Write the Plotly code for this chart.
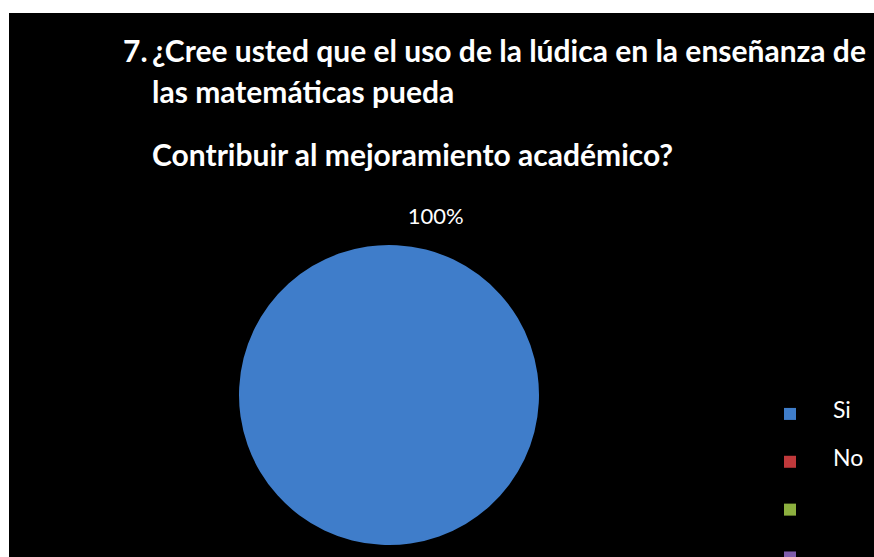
import plotly.graph_objects as go

# ---- data ----
categories = ["Si", "No", "", " "]
values = [100, 0, 0, 0]
slice_colors = ["#3f7dca", "#c0393b", "#8db03f", "#7e5cab"]
title_number = "7."
title_lines = [
    "¿Cree usted que el uso de la lúdica en la enseñanza de",
    "las matemáticas pueda",
    "Contribuir al mejoramiento académico?",
]

W, H = 874, 557

def px_x(x):
    return x / W

def px_y(y):
    return 1 - y / H

# legend display names (padded so entries are spaced like the original)
legend_names = [f"<br><span style='font-size:23px'>{c}</span><br>" for c in categories]
templates = ["<span style='font-size:22px'>%{percent:.0%}</span><br> " if v > 0 else "" for v in values]

fig = go.Figure()
fig.add_trace(go.Pie(
    labels=legend_names,
    values=values,
    sort=False,
    direction="clockwise",
    rotation=183,
    marker=dict(colors=slice_colors, line=dict(width=0)),
    texttemplate=templates,
    textposition="outside",
    textfont=dict(family="Lato", size=14, color="white"),
    hoverinfo="skip",
    domain=dict(x=[px_x(238), px_x(540)], y=[px_y(545), px_y(245)]),
    showlegend=True,
))

annotations = [
    dict(text=title_number, x=px_x(121), y=px_y(50), xanchor="left", yanchor="middle"),
    dict(text=title_lines[0], x=px_x(150), y=px_y(50), xanchor="left", yanchor="middle"),
    dict(text=title_lines[1], x=px_x(150), y=px_y(91), xanchor="left", yanchor="middle"),
    dict(text=title_lines[2], x=px_x(150), y=px_y(154), xanchor="left", yanchor="middle"),
]
for a in annotations:
    a.update(xref="paper", yref="paper", showarrow=False,
             font=dict(family="Lato", size=30, color="white", weight="bold"))

fig.update_layout(
    width=W, height=H,
    margin=dict(l=0, r=0, t=0, b=0, autoexpand=False),
    paper_bgcolor="white",
    plot_bgcolor="black",
    shapes=[dict(type="rect", xref="paper", yref="paper",
                 x0=px_x(9), x1=1, y0=0, y1=px_y(13),
                 fillcolor="black", line=dict(width=0), layer="below")],
    annotations=annotations,
    legend=dict(xref="container", yref="container",
                x=px_x(747), y=px_y(385), xanchor="left", yanchor="top",
                font=dict(family="Lato", size=11.5, color="white"),
                bgcolor="rgba(0,0,0,0)", itemwidth=76),
)

fig.write_html("out.html")
